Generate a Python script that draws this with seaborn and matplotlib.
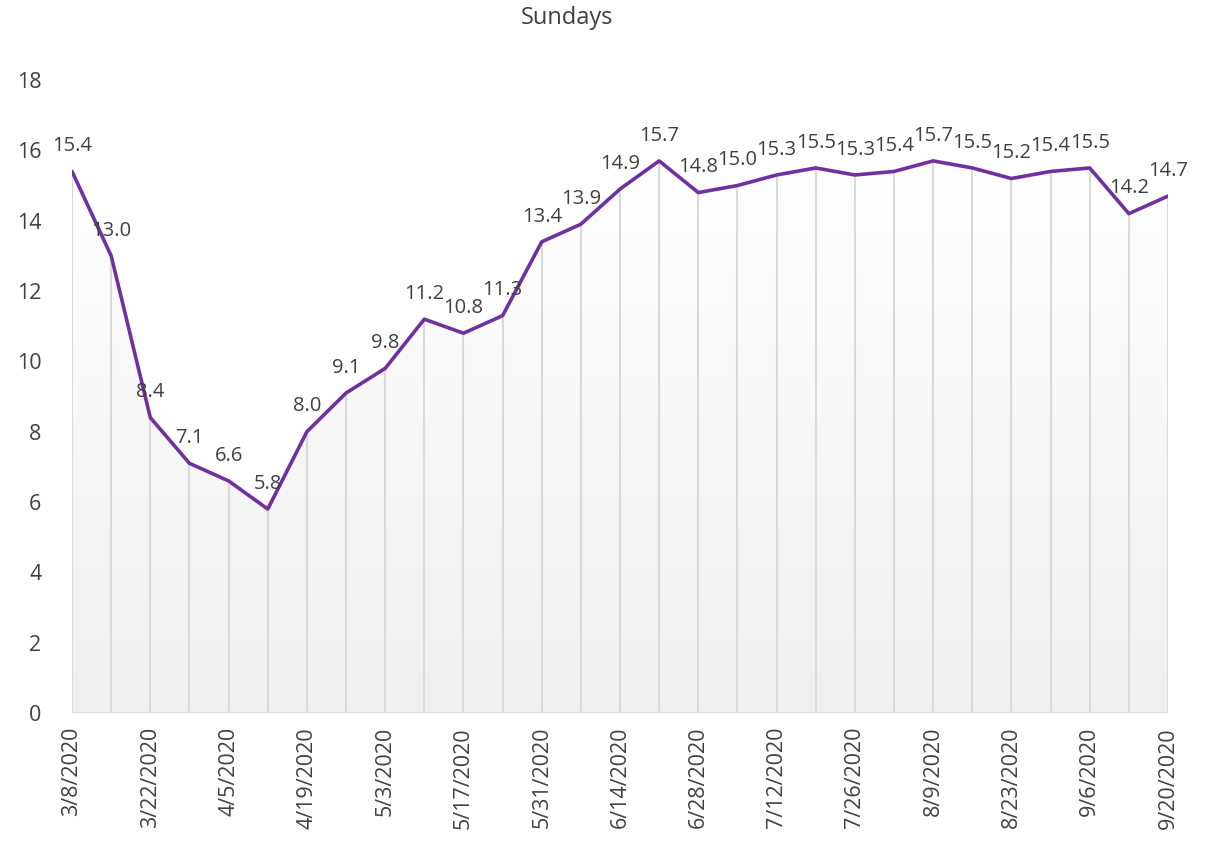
import numpy as np
import pandas as pd
import matplotlib
matplotlib.use("Agg")
import matplotlib.pyplot as plt
import seaborn as sns

dates = ["3/8/2020", "3/15/2020", "3/22/2020", "3/29/2020", "4/5/2020", "4/12/2020",
         "4/19/2020", "4/26/2020", "5/3/2020", "5/10/2020", "5/17/2020", "5/24/2020",
         "5/31/2020", "6/7/2020", "6/14/2020", "6/21/2020", "6/28/2020", "7/5/2020",
         "7/12/2020", "7/19/2020", "7/26/2020", "8/2/2020", "8/9/2020", "8/16/2020",
         "8/23/2020", "8/30/2020", "9/6/2020", "9/13/2020", "9/20/2020"]
values = [15.4, 13.0, 8.4, 7.1, 6.6, 5.8, 8.0, 9.1, 9.8, 11.2, 10.8, 11.3,
          13.4, 13.9, 14.9, 15.7, 14.8, 15.0, 15.3, 15.5, 15.3, 15.4, 15.7, 15.5,
          15.2, 15.4, 15.5, 14.2, 14.7]
title = "Sundays"
y_ticks = [0, 2, 4, 6, 8, 10, 12, 14, 16, 18]

sns.set_style("white")
plt.rcParams['font.family'] = ['Open Sans', 'DejaVu Sans']

df = pd.DataFrame({"idx": np.arange(len(values)), "value": values})

fig = plt.figure(figsize=(12.11, 8.46), dpi=100)
ax = fig.add_axes([0.0595, 0.1572, 0.905, 0.7482])

text_color = "#404040"
x = df["idx"].to_numpy()
y = df["value"].to_numpy()

# gradient fill under the line
poly = ax.fill_between(x, 0, y, color="none", lw=0)
cmap = matplotlib.colors.LinearSegmentedColormap.from_list("g", ["#f0f0f0", "#ffffff"])
im = ax.imshow(np.linspace(0, 1, 256).reshape(-1, 1), cmap=cmap, aspect="auto",
               extent=[0, len(values) - 1, 0, max(values)],
               origin="lower", zorder=0, vmin=0, vmax=1)
im.set_clip_path(poly.get_paths()[0], transform=ax.transData)

# drop lines
ax.vlines(x, 0, y, color="#d9d9d9", lw=1.5, zorder=1)
ax.axhline(0, color="#d9d9d9", lw=1.5, zorder=1)

sns.lineplot(data=df, x="idx", y="value", ax=ax, color="#7030A0", lw=2.6, zorder=3)

for xi, yi in zip(x, y):
    ax.annotate(f"{yi:.1f}", (xi, yi), xytext=(0, 11), textcoords="offset points",
                ha="center", va="bottom", fontsize=14.5, color=text_color)

ax.set_xlim(0, len(values) - 1)
ax.set_ylim(0, 18)
ax.set_yticks(y_ticks)
ax.set_xticks(x[::2])
ax.set_xticklabels(dates[::2], rotation=90)
ax.tick_params(axis="both", length=0, labelsize=15.5, colors=text_color)
ax.tick_params(axis="y", pad=22)
ax.tick_params(axis="x", pad=10)
ax.set_xlabel("")
ax.set_ylabel("")
for s in ax.spines.values():
    s.set_visible(False)
fig.text(0.4685, 0.979, title, ha="center", va="center", fontsize=17, color=text_color)

fig.savefig("out.png", dpi=100)
